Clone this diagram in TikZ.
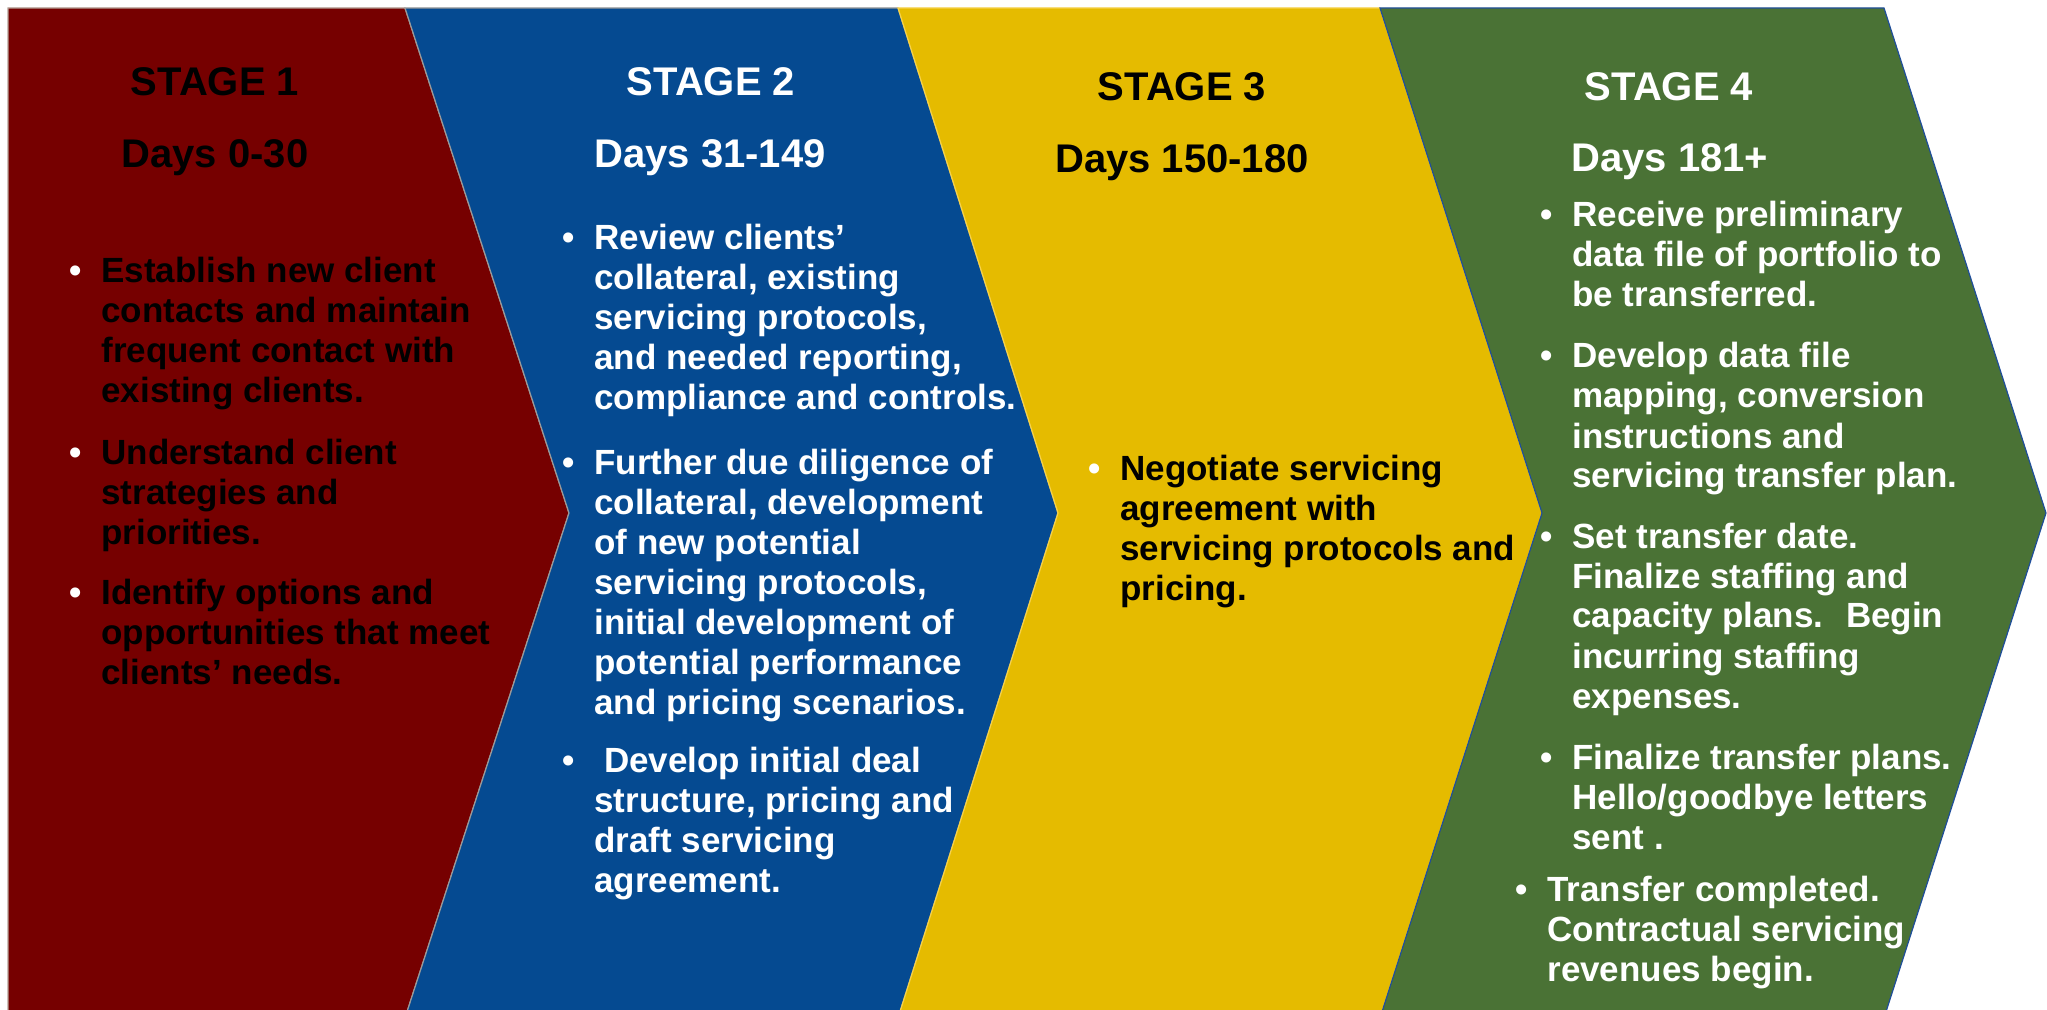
\documentclass[tikz,border=0pt]{standalone}
\usepackage{fontspec}
\setmainfont{Liberation Sans}

\definecolor{stageone}{HTML}{760000}
\definecolor{stagetwo}{HTML}{054A91}
\definecolor{stagethree}{HTML}{E5BB00}
\definecolor{stagefour}{HTML}{4A7235}
\definecolor{edgeone}{HTML}{B4A096}
\definecolor{edgetwo}{HTML}{9A9A9A}
\definecolor{edgethree}{HTML}{F6D24A}
\definecolor{edgefour}{HTML}{1F4E9A}

\newcommand{\stagebullet}{\llap{\textcolor{white}{\textbullet}\hspace{10pt}}}

\begin{document}
\begin{tikzpicture}[x=0.5pt, y=-0.5pt,
  chevron/.style={line width=0.6pt, line join=miter},
  head/.style={anchor=base, inner sep=0pt, font=\bfseries\fontsize{20}{24}\selectfont},
  entry/.style={anchor=base west, inner sep=0pt, align=left, font=\bfseries\fontsize{17.5}{20}\selectfont}]

\useasboundingbox (0,0) rectangle (2047,1010);
\clip (0,0) rectangle (2047,1010);

\draw [chevron, fill=stageone, draw=edgeone] (8,8) -- (405,8) -- (569,513) -- (405,1018) -- (8,1018) -- cycle;
\draw [chevron, fill=stagetwo, draw=edgetwo] (405,8) -- (898,8) -- (1058,513) -- (898,1018) -- (405,1018) -- (569,513) -- cycle;
\draw [chevron, fill=stagethree, draw=edgethree] (898,8) -- (1380,8) -- (1542,513) -- (1380,1018) -- (898,1018) -- (1058,513) -- cycle;
\draw [chevron, fill=stagefour, draw=edgefour] (1380,8) -- (1884,8) -- (2046,513) -- (1884,1018) -- (1380,1018) -- (1542,513) -- cycle;

% entries sit on the baseline of their last line
\node [head, text=black] (headone) at (215,96) {STAGE 1};
\node [head, text=black] (daysone) at (215,168) {Days 0-30};
\node [entry, text=black] (oneA) at (101,403) {\stagebullet Establish new client\\contacts and maintain\\frequent contact with\\existing clients.};
\node [entry, text=black] (oneB) at (101,545) {\stagebullet Understand client\\strategies and\\priorities.};
\node [entry, text=black] (oneC) at (101,684) {\stagebullet Identify options and\\opportunities that meet\\clients’ needs.};

\node [head, text=white] (headtwo) at (711,96) {STAGE 2};
\node [head, text=white] (daystwo) at (710,168) {Days 31-149};
\node [entry, text=white] (twoA) at (594,410) {\stagebullet Review clients’\\collateral, existing\\servicing protocols,\\and needed reporting,\\compliance and controls.};
\node [entry, text=white] (twoB) at (594,714) {\stagebullet Further due diligence of\\collateral, development\\of new potential\\servicing protocols,\\initial development of\\potential performance\\and pricing scenarios.};
\node [entry, text=white] (twoC) at (594,892) {\stagebullet ~Develop initial deal\\structure, pricing and\\draft servicing\\agreement.};

\node [head, text=black] (headthree) at (1182,101) {STAGE 3};
\node [head, text=black] (daysthree) at (1182,173) {Days 150-180};
\node [entry, text=black] (threeA) at (1120,601) {\stagebullet Negotiate servicing\\agreement with\\servicing protocols and\\pricing.};

\node [head, text=white] (headfour) at (1669,101) {STAGE 4};
\node [head, text=white] (daysfour) at (1670,172) {Days 181+};
\node [entry, text=white] (fourA) at (1572,307) {\stagebullet Receive preliminary\\data file of portfolio to\\be transferred.};
\node [entry, text=white] (fourB) at (1572,488) {\stagebullet Develop data file\\mapping, conversion\\instructions and\\servicing transfer plan.};
\node [entry, text=white] (fourC) at (1572,708) {\stagebullet Set transfer date.\\Finalize staffing and\\capacity plans.~ Begin\\incurring staffing\\expenses.};
\node [entry, text=white] (fourD) at (1572,849) {\stagebullet Finalize transfer plans.\\Hello/goodbye letters\\sent .};
\node [entry, text=white] (fourE) at (1547,981) {\stagebullet Transfer completed.\\Contractual servicing\\revenues begin.};

\end{tikzpicture}
\end{document}
